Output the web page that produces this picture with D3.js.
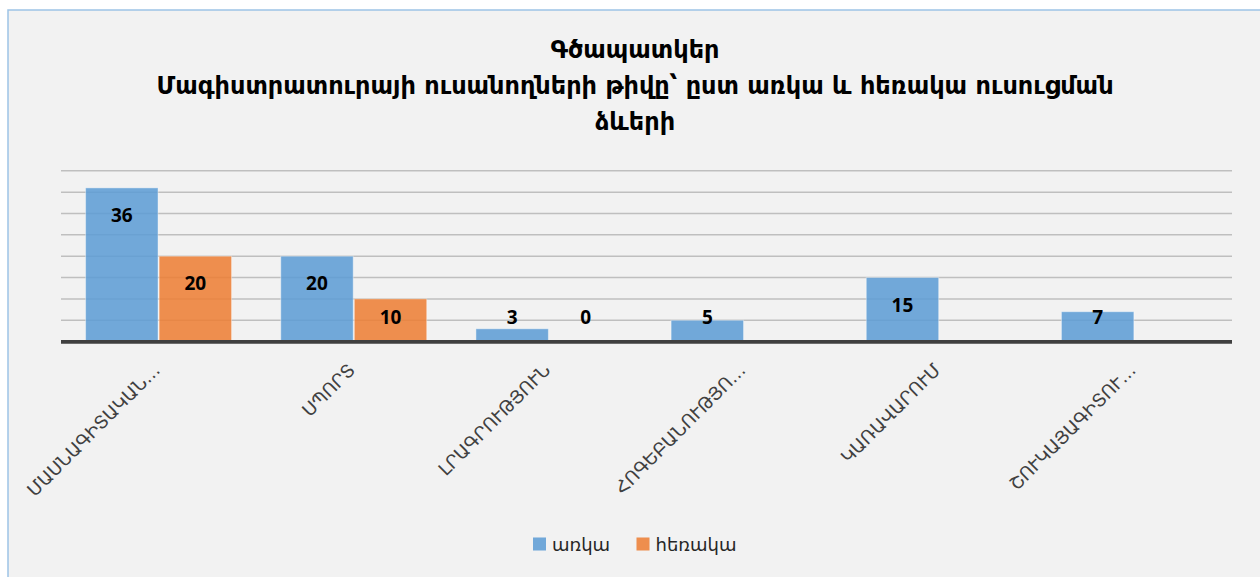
<!DOCTYPE html>
<html>
<head>
<meta charset="utf-8">
<script src="https://cdn.jsdelivr.net/npm/d3@7"></script>
<style>
  html, body { margin: 0; padding: 0; background: #ffffff; }
  svg { display: block; }
</style>
</head>
<body>
<div id="chart"></div>
<script>
// chart data
const titleLines = [
  "Գծապատկեր",
  "Մագիստրատուրայի ուսանողների թիվը՝ ըստ առկա և հեռակա ուսուցման",
  "ձևերի"
];
const categories = [
  "ՄԱՍՆԱԳԻՏԱԿԱՆ…",
  "ՍՊՈՐՏ",
  "ԼՐԱԳՐՈՒԹՅՈՒՆ",
  "ՀՈԳԵԲԱՆՈՒԹՅՈ…",
  "ԿԱՌԱՎԱՐՈՒՄ",
  "ՇՈՒԿԱՅԱԳԻՏՈՒ…"
];
const seriesNames = ["առկա", "հեռակա"];
const fullTime = [36, 20, 3, 5, 15, 7];
const partTime = [20, 10, 0, null, null, null];
const gridTicks = [5, 10, 15, 20, 25, 30, 35, 40];

const colors = ["#5b9bd5", "#ed7d31"];

const width = 1260, height = 577;
const plot = {left: 61, right: 1232, top: 170.8, bottom: 341.6};

const svg = d3.select("#chart").append("svg")
  .attr("width", width)
  .attr("height", height);

// chart area + border
svg.append("rect")
  .attr("x", 8).attr("y", 10)
  .attr("width", width).attr("height", height)
  .attr("fill", "#f2f2f2")
  .attr("stroke", "#9dc3e6")
  .attr("stroke-width", 1.5);

// title
svg.append("g").selectAll("text")
  .data(titleLines)
  .enter()
  .append("text")
  .attr("x", 635)
  .attr("y", (d, i) => 58 + i * 36)
  .attr("text-anchor", "middle")
  .attr("font-family", "DejaVu Sans")
  .attr("font-weight", "bold")
  .attr("font-size", 24)
  .attr("fill", "#000")
  .text(d => d);

const x0 = d3.scaleBand()
  .domain(categories)
  .range([plot.left, plot.right]);

const groupPad = 24.6;
const x1 = d3.scaleBand()
  .domain(seriesNames)
  .range([groupPad, x0.bandwidth() - groupPad])
  .paddingInner(0.015);

const y = d3.scaleLinear()
  .domain([0, 40])
  .range([plot.bottom, plot.top]);

// gridlines
svg.append("g").selectAll("line")
  .data(gridTicks)
  .enter()
  .append("line")
  .attr("x1", plot.left).attr("x2", plot.right)
  .attr("y1", d => y(d)).attr("y2", d => y(d))
  .attr("stroke", "#bfbfbf")
  .attr("stroke-width", 1.5);

// bars
const rows = [];
categories.forEach((c, i) => {
  rows.push({cat: c, series: seriesNames[0], value: fullTime[i], color: colors[0]});
  rows.push({cat: c, series: seriesNames[1], value: partTime[i], color: colors[1]});
});
const shown = rows.filter(d => d.value !== null);

svg.append("g").selectAll("rect")
  .data(shown)
  .enter()
  .append("rect")
  .attr("x", d => x0(d.cat) + x1(d.series))
  .attr("width", x1.bandwidth())
  .attr("y", d => y(d.value))
  .attr("height", d => y(0) - y(d.value))
  .attr("fill", d => d.color)
  .attr("fill-opacity", 0.85)
  .attr("stroke", "#ffffff")
  .attr("stroke-opacity", 0.4)
  .attr("stroke-width", 1);

// axis baseline
svg.append("line")
  .attr("x1", plot.left).attr("x2", plot.right)
  .attr("y1", y(0) + 0.2).attr("y2", y(0) + 0.2)
  .attr("stroke", "#404040")
  .attr("stroke-width", 3.8);

// data labels (inside end, kept clear of the axis)
svg.append("g").selectAll("text")
  .data(shown)
  .enter()
  .append("text")
  .attr("x", d => x0(d.cat) + x1(d.series) + x1.bandwidth() / 2)
  .attr("y", d => Math.min(y(d.value) + 27, y(0) - 25))
  .attr("text-anchor", "middle")
  .attr("dominant-baseline", "central")
  .attr("font-family", "Open Sans")
  .attr("font-weight", "bold")
  .attr("font-size", 19)
  .attr("fill", "#000")
  .text(d => d.value);

// category labels
svg.append("g").selectAll("text")
  .data(categories)
  .enter()
  .append("text")
  .attr("transform", d => `translate(${x0(d) + x0.bandwidth() / 2 - 2},${y(0) + 25}) rotate(-45)`)
  .attr("text-anchor", "end")
  .attr("dominant-baseline", "central")
  .attr("font-family", "DejaVu Sans")
  .attr("font-size", 18)
  .attr("fill", "#404040")
  .text(d => d);

// legend
const legend = svg.append("g").attr("transform", "translate(533,544)");
const legX = [0, 103.5];
seriesNames.forEach((name, i) => {
  const g = legend.append("g").attr("transform", `translate(${legX[i]},0)`);
  g.append("rect")
    .attr("x", 0).attr("y", -6.5)
    .attr("width", 13).attr("height", 13)
    .attr("fill", colors[i])
    .attr("fill-opacity", 0.85);
  g.append("text")
    .attr("x", 19).attr("y", 0)
    .attr("dominant-baseline", "central")
    .attr("font-family", "DejaVu Sans")
    .attr("font-size", 18)
    .attr("fill", "#262626")
    .text(name);
});
</script>
</body>
</html>
